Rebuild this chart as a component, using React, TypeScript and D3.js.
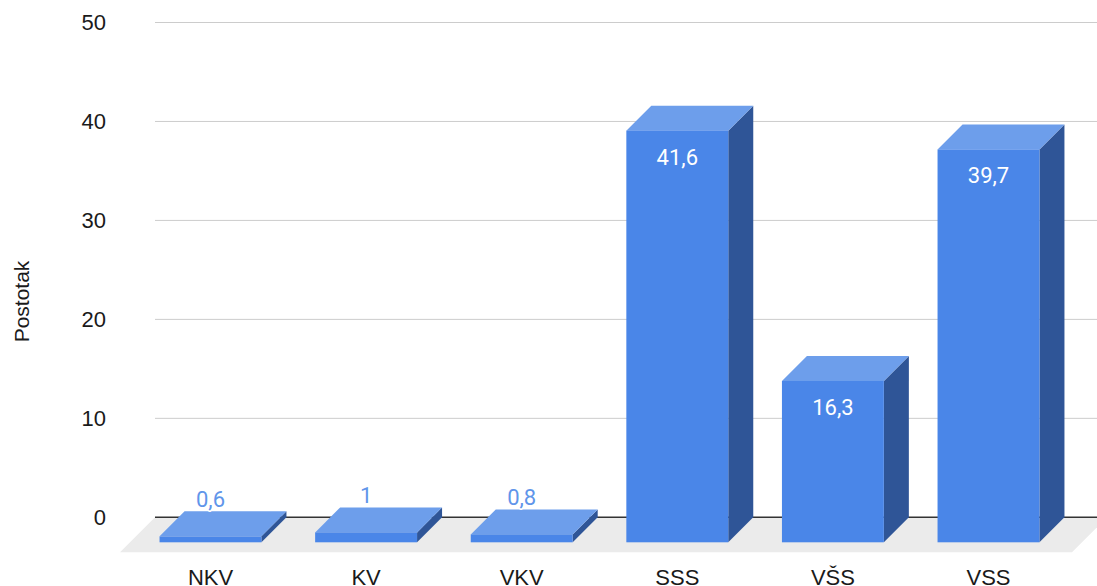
import { useEffect, useRef } from "react"
import * as d3 from "d3"

const categories = ["NKV", "KV", "VKV", "SSS", "VŠS", "VSS"]
const values = [0.6, 1, 0.8, 41.6, 16.3, 39.7]
const valueLabels = ["0,6", "1", "0,8", "41,6", "16,3", "39,7"]
const yTicks = [0, 10, 20, 30, 40, 50]
const yTitle = "Postotak"

const App = () => {
  const svgRef = useRef<SVGSVGElement>(null)

  useEffect(() => {
    if (!svgRef.current) return
    const svg = d3.select(svgRef.current)
    svg.selectAll("*").remove()

    const width = 1097
    const depth = 25 // bar depth offset
    const floorDepth = 35
    const wallLeft = 155
    const wallRight = 1107

    const yScale = d3.scaleLinear().domain([0, 50]).range([517.3, 22.5])
    const xScale = d3
      .scaleBand()
      .domain(categories)
      .range([157.7, 1091.3])
      .paddingInner(0.345)
      .paddingOuter(0.1725)

    const y0 = yScale(0)

    // Gridlines on the back wall
    svg
      .append("g")
      .selectAll("line")
      .data(yTicks.filter((t) => t !== 0))
      .enter()
      .append("line")
      .attr("x1", wallLeft)
      .attr("x2", wallRight)
      .attr("y1", (d) => yScale(d))
      .attr("y2", (d) => yScale(d))
      .attr("stroke", "#cccccc")
      .attr("stroke-width", 1)

    // Y tick labels
    svg
      .append("g")
      .selectAll("text")
      .data(yTicks)
      .enter()
      .append("text")
      .attr("x", 106)
      .attr("y", (d) => yScale(d))
      .attr("dy", "0.36em")
      .attr("text-anchor", "end")
      .attr("font-family", "'Liberation Sans', Arial, sans-serif")
      .attr("font-size", 22)
      .attr("fill", "#1a1a1a")
      .text((d) => String(d))

    // Y title
    svg
      .append("text")
      .attr("transform", "translate(29,301.5) rotate(-90)")
      .attr("text-anchor", "middle")
      .attr("font-family", "'Liberation Sans', Arial, sans-serif")
      .attr("font-size", 21)
      .attr("fill", "#1a1a1a")
      .text(yTitle)

    // Floor
    svg
      .append("polygon")
      .attr(
        "points",
        [
          [wallLeft, y0],
          [wallRight, y0],
          [wallRight - floorDepth, y0 + floorDepth],
          [wallLeft - floorDepth, y0 + floorDepth],
        ]
          .map((p) => p.join(","))
          .join(" ")
      )
      .attr("fill", "#ebebeb")

    // zero baseline
    svg
      .append("line")
      .attr("x1", wallLeft)
      .attr("x2", wallRight)
      .attr("y1", y0)
      .attr("y2", y0)
      .attr("stroke", "#333")
      .attr("stroke-width", 1.5)

    const bars = svg.append("g")
    categories.forEach((c, i) => {
      const v = values[i]
      const x0 = xScale(c) || 0
      const x1 = x0 + xScale.bandwidth()
      const yt = yScale(v)
      const pts = (arr: number[][]) => arr.map((p) => p.join(",")).join(" ")

      // side face
      bars
        .append("polygon")
        .attr("points", pts([[x1 - depth, yt + depth], [x1, yt], [x1, y0], [x1 - depth, y0 + depth]]))
        .attr("fill", "#2f5597")
      // top face
      bars
        .append("polygon")
        .attr("points", pts([[x0 - depth, yt + depth], [x1 - depth, yt + depth], [x1, yt], [x0, yt]]))
        .attr("fill", "#6d9eeb")
      // front face
      bars
        .append("rect")
        .attr("x", x0 - depth)
        .attr("y", yt + depth)
        .attr("width", x1 - x0)
        .attr("height", y0 - yt)
        .attr("fill", "#4a86e8")
    })

    // Value labels
    const labels = svg.append("g")
    categories.forEach((c, i) => {
      const v = values[i]
      const cx = (xScale(c) || 0) + xScale.bandwidth() / 2 - depth
      const frontTop = yScale(v) + depth
      const inside = y0 - yScale(v) > 40
      const t = labels
        .append("text")
        .attr("x", cx)
        .attr("y", inside ? frontTop + 34 : frontTop - 29.3)
        .attr("text-anchor", "middle")
        .attr("font-family", "Roboto, sans-serif")
        .attr("font-size", 22)
        .text(valueLabels[i])
      if (inside) {
        t.attr("fill", "#ffffff")
      } else {
        t.attr("fill", "#5f95ea")
          .attr("stroke", "#ffffff")
          .attr("stroke-width", 3)
          .attr("paint-order", "stroke")
          .attr("stroke-linejoin", "round")
      }
    })

    // X labels (cut at the bottom edge, as in the original)
    svg
      .append("g")
      .selectAll("text")
      .data(categories)
      .enter()
      .append("text")
      .attr("x", (d) => (xScale(d) || 0) + xScale.bandwidth() / 2 - depth)
      .attr("y", 585)
      .attr("text-anchor", "middle")
      .attr("font-family", "'Liberation Sans', Arial, sans-serif")
      .attr("font-size", 22)
      .attr("fill", "#1a1a1a")
      .text((d) => d)

    svg.attr("width", width)
  }, [])

  return (
    <div style={{ position: "fixed", left: 0, top: 0, width: 1097, height: 586, background: "#fff" }}>
      <svg ref={svgRef} width={1097} height={586} style={{ display: "block" }}></svg>
    </div>
  )
}

export default App
